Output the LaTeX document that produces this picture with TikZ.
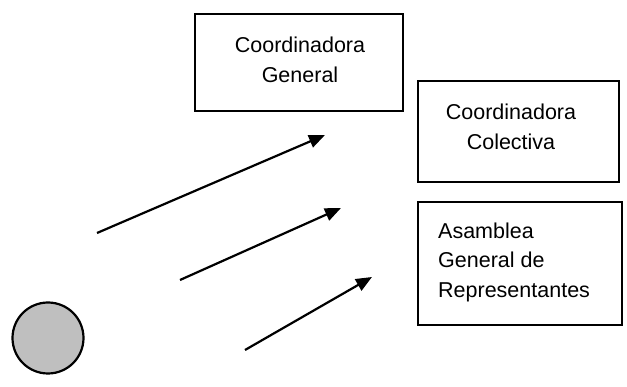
\documentclass[tikz,border=0pt]{standalone}
\usepackage{fontspec}
\setmainfont{Liberation Sans}
\usetikzlibrary{arrows.meta}
\begin{document}
\begin{tikzpicture}[x=1pt,y=-1pt,
  orgbox/.style={draw,line width=2.2pt,inner sep=0pt},
  lbl/.style={font=\fontsize{21.5}{29.5}\selectfont,align=center,inner sep=0pt},
  flow/.style={line width=2.2pt,-{Triangle[length=16pt,width=13pt]}}]
\useasboundingbox (0,0) rectangle (627,387);
% boxes
\draw[orgbox] (195,14) rectangle (403,111);
\node[lbl] (cg) at (300,60) {Coordinadora\\General};
\draw[orgbox] (418,81) rectangle (619,182);
\node[lbl] (cc) at (511,127) {Coordinadora\\Colectiva};
\draw[orgbox] (418,202) rectangle (622,325);
\node[lbl,align=left,anchor=west] (ag) at (438,262) {Asamblea\\General de\\Representantes};
% circle
\node[draw,line width=2.2pt,circle,minimum size=71pt,fill=gray!50,inner sep=0pt] (c) at (48,338) {};
% arrows
\coordinate (a1s) at (97,233); \coordinate (a1e) at (325,135);
\coordinate (a2s) at (180,280); \coordinate (a2e) at (341,208);
\coordinate (a3s) at (245,350); \coordinate (a3e) at (372,277);
\draw[flow] (a1s) -- (a1e);
\draw[flow] (a2s) -- (a2e);
\draw[flow] (a3s) -- (a3e);
\end{tikzpicture}
\end{document}
